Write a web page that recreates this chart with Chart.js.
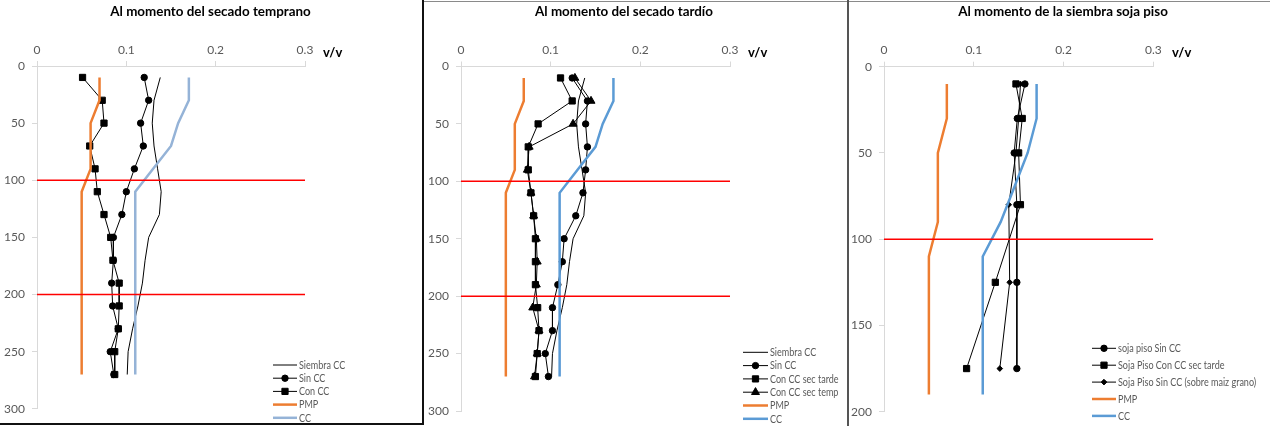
<!DOCTYPE html>
<html lang="es">
<head>
<meta charset="utf-8">
<title>Perfiles de humedad del suelo</title>
<script src="https://cdn.jsdelivr.net/npm/chart.js@4.4.1/dist/chart.umd.min.js"></script>
<style>
  html, body { margin: 0; padding: 0; background: #fff; }
  body { width: 1270px; height: 426px; position: relative; overflow: hidden; }
  canvas { position: absolute; top: 0; }
  .edge { position: absolute; }
</style>
</head>
<body>
<canvas id="panel-early" width="422" height="423" style="left:0"></canvas>
<canvas id="panel-late" width="422" height="426" style="left:424px"></canvas>
<canvas id="panel-soy" width="421" height="426" style="left:849px"></canvas>
<div class="edge" style="left:422px;top:0;width:2px;height:425px;background:#111"></div>
<div class="edge" style="left:0;top:423px;width:424px;height:2px;background:#111"></div>
<div class="edge" style="left:424px;top:1px;width:846px;height:1px;background:#8a8a8a"></div>
<div class="edge" style="left:847px;top:0;width:2px;height:426px;background:#555"></div>
<script>
// profundidad (cm) de cada muestra
const DEPTHS = [10, 30, 50, 70, 90, 110, 130, 150, 170, 190, 210, 230, 250, 270];

const SIEMBRA_CC = [0.138, 0.131, 0.129, 0.131, 0.135, 0.139, 0.137, 0.125, 0.121, 0.118, 0.113, 0.107, 0.102, 0.101];
const PMP = [0.07, 0.07, 0.06, 0.06, 0.06, 0.05, 0.05, 0.05, 0.05, 0.05, 0.05, 0.05, 0.05, 0.05];
const CC = [0.17, 0.17, 0.158, 0.15, 0.13, 0.11, 0.11, 0.11, 0.11, 0.11, 0.11, 0.11, 0.11, 0.11];

// secado temprano
const EARLY_SIN_CC = [0.12, 0.125, 0.116, 0.119, 0.109, 0.1, 0.095, 0.0855, 0.0855, 0.0836, 0.0847, 0.091, 0.082, 0.086];
const EARLY_CON_CC = [0.051, 0.073, 0.075, 0.059, 0.065, 0.0675, 0.075, 0.0825, 0.085, 0.092, 0.092, 0.091, 0.087, 0.087];

// secado tardio
const LATE_SIN_CC = [0.124, 0.141, 0.139, 0.141, 0.139, 0.136, 0.128, 0.115, 0.113, 0.108, 0.102, 0.102, 0.094, 0.0975];
const LATE_CON_CC_TARDE = [0.111, 0.124, 0.086, 0.075, 0.075, 0.078, 0.081, 0.083, 0.083, 0.083, 0.0855, 0.087, 0.085, 0.083];
const LATE_CON_CC_TEMP = [0.127, 0.145, 0.125, 0.076, 0.074, 0.078, 0.081, 0.084, 0.085, 0.084, 0.08, 0.087, 0.085, 0.082];

// siembra soja piso
const SOY_DEPTHS = [10, 30, 50, 80, 125, 175];
const SOY_SIN_CC = [0.157, 0.1485, 0.145, 0.148, 0.148, 0.148];
const SOY_CON_CC_TARDE = [0.147, 0.154, 0.15, 0.152, 0.124, 0.092];
const SOY_SIN_CC_MAIZ = [0.152, 0.15, 0.147, 0.139, 0.14, 0.129];
const SOY_LIMIT_DEPTHS = [10, 30, 50, 70, 90, 110, 190];
const SOY_PMP = [0.07, 0.07, 0.06, 0.06, 0.06, 0.05, 0.05];
const SOY_CC = [0.17, 0.17, 0.16, 0.145, 0.13, 0.11, 0.11];

// lineas rojas de referencia
const REF_DEPTHS = [100, 200];
const SOY_REF_DEPTHS = [100];
const REF_SPAN = [0, 0.3];

const X_TICKS = [0, 0.1, 0.2, 0.3];
const DEPTH_TICKS = [0, 50, 100, 150, 200, 250, 300];
const SOY_DEPTH_TICKS = [0, 50, 100, 150, 200];

const FONT = 'Lato, "Open Sans", sans-serif';
const GREY_TEXT = '#595959';
const AXIS_GREY = '#d9d9d9';

function pairs(xs, ys) {
  return xs.map((x, i) => ({ x, y: ys[i] }));
}

function profile(label, values, depths, style) {
  return Object.assign({
    label,
    data: pairs(values, depths),
    showLine: true,
    borderColor: '#000',
    backgroundColor: '#000',
    borderWidth: 1,
    pointRadius: 0,
    pointBorderWidth: 1,
    pointStyle: 'circle',
  }, style);
}

function refLines(depths) {
  return depths.map((d) => ({
    data: REF_SPAN.map((x) => ({ x, y: d })),
    showLine: true,
    borderColor: '#ff0000',
    borderWidth: 1.5,
    pointRadius: 0,
  }));
}

const panelDecor = {
  id: 'panelDecor',
  afterDraw(chart, args, opts) {
    const ctx = chart.ctx;
    ctx.save();
    ctx.fillStyle = '#000';
    ctx.textBaseline = 'alphabetic';
    ctx.textAlign = 'center';
    ctx.font = 'bold 13.4px ' + FONT;
    ctx.fillText(opts.title, opts.titleX, 16);
    ctx.textAlign = 'left';
    ctx.font = 'bold 13px ' + FONT;
    ctx.fillText('v/v', opts.unitX, 57);

    // leyenda estilo Excel: linea + marcador
    ctx.font = '10.5px ' + FONT;
    ctx.textBaseline = 'middle';
    let y = opts.legendY;
    chart.data.datasets.forEach((ds) => {
      if (!ds.label) return;
      const x0 = opts.legendX;
      const x1 = x0 + opts.lineLen;
      ctx.strokeStyle = ds.borderColor;
      ctx.lineWidth = ds.borderWidth;
      ctx.beginPath();
      ctx.moveTo(x0, y);
      ctx.lineTo(x1, y);
      ctx.stroke();
      if (ds.pointRadius > 0) {
        ctx.fillStyle = ds.backgroundColor;
        ctx.lineWidth = 1;
        Chart.helpers.drawPoint(ctx, {
          pointStyle: ds.pointStyle,
          radius: ds.pointRadius,
          rotation: 0,
          borderWidth: 1,
        }, (x0 + x1) / 2, y);
      }
      ctx.fillStyle = GREY_TEXT;
      const w = ctx.measureText(ds.label).width;
      ctx.fillText(ds.label, x1 + 2, y + 0.5, w * 0.86);
      y += opts.legendStep;
    });
    ctx.restore();
  },
};

function makeChart(id, datasets, panel) {
  datasets.forEach((ds, i) => { ds.order = -i; });
  const canvas = document.getElementById(id);
  return new Chart(canvas, {
    type: 'scatter',
    data: { datasets },
    plugins: [panelDecor],
    options: {
      responsive: false,
      animation: false,
      devicePixelRatio: 1,
      layout: { padding: { top: 0, left: 0, right: canvas.width - panel.right, bottom: canvas.height - panel.bottom } },
      plugins: {
        legend: { display: false },
        tooltip: { enabled: false },
        panelDecor: panel,
      },
      scales: {
        x: {
          type: 'linear',
          position: 'top',
          min: 0,
          max: 0.3,
          afterBuildTicks: (s) => { s.ticks = X_TICKS.map((v) => ({ value: v })); },
          afterFit: (s) => { s.height = panel.top; },
          ticks: {
            color: GREY_TEXT,
            font: { family: FONT, size: 12 },
            padding: 4,
            callback: (v) => String(Math.round(v * 10) / 10),
          },
          grid: { drawOnChartArea: false, tickLength: 5, color: AXIS_GREY },
          border: { color: AXIS_GREY },
        },
        y: {
          type: 'linear',
          reverse: true,
          min: 0,
          max: panel.yTicks[panel.yTicks.length - 1],
          afterBuildTicks: (s) => { s.ticks = panel.yTicks.map((v) => ({ value: v })); },
          afterFit: (s) => { s.width = panel.left; },
          ticks: {
            color: GREY_TEXT,
            font: { family: FONT, size: 12 },
            padding: 7,
          },
          grid: { drawOnChartArea: false, tickLength: 5, color: AXIS_GREY },
          border: { color: AXIS_GREY },
        },
      },
    },
  });
}

const circle = { pointRadius: 3.2, pointStyle: 'circle' };
const square = { pointRadius: 4.4, pointStyle: 'rect' };
const triangle = { pointRadius: 4.6, pointStyle: 'triangle' };
const diamond = { pointRadius: 2.8, pointStyle: 'rectRot' };

makeChart('panel-early', [
  profile('Siembra CC', SIEMBRA_CC, DEPTHS),
  profile('Sin CC', EARLY_SIN_CC, DEPTHS, circle),
  profile('Con CC', EARLY_CON_CC, DEPTHS, square),
  profile('PMP', PMP, DEPTHS, { borderColor: '#ed7d31', borderWidth: 2.5 }),
  profile('CC', CC, DEPTHS, { borderColor: '#95b3d7', borderWidth: 2.5 }),
  ...refLines(REF_DEPTHS),
], {
  title: 'Al momento del secado temprano', titleX: 210.5, unitX: 323,
  left: 37, right: 305, top: 66, bottom: 410, yTicks: DEPTH_TICKS,
  legendX: 273, legendY: 365, legendStep: 13.2, lineLen: 24,
});

makeChart('panel-late', [
  profile('Siembra CC', SIEMBRA_CC, DEPTHS),
  profile('Sin CC', LATE_SIN_CC, DEPTHS, circle),
  profile('Con CC sec tarde', LATE_CON_CC_TARDE, DEPTHS, square),
  profile('Con CC sec temp', LATE_CON_CC_TEMP, DEPTHS, triangle),
  profile('PMP', PMP, DEPTHS, { borderColor: '#ed7d31', borderWidth: 2.5 }),
  profile('CC', CC, DEPTHS, { borderColor: '#5b9bd5', borderWidth: 2.5 }),
  ...refLines(REF_DEPTHS),
], {
  title: 'Al momento del secado tardío', titleX: 200, unitX: 324,
  left: 37, right: 306, top: 66.5, bottom: 411, yTicks: DEPTH_TICKS,
  legendX: 319, legendY: 352.3, legendStep: 13.3, lineLen: 25,
});

makeChart('panel-soy', [
  profile('soja piso Sin CC', SOY_SIN_CC, SOY_DEPTHS, circle),
  profile('Soja Piso Con CC sec tarde', SOY_CON_CC_TARDE, SOY_DEPTHS, square),
  profile('Soja Piso Sin CC (sobre maiz grano)', SOY_SIN_CC_MAIZ, SOY_DEPTHS, diamond),
  profile('PMP', SOY_PMP, SOY_LIMIT_DEPTHS, { borderColor: '#ed7d31', borderWidth: 2.5 }),
  profile('CC', SOY_CC, SOY_LIMIT_DEPTHS, { borderColor: '#5b9bd5', borderWidth: 2.5 }),
  ...refLines(SOY_REF_DEPTHS),
], {
  title: 'Al momento de la siembra soja piso', titleX: 214, unitX: 323,
  left: 35, right: 304.3, top: 66.7, bottom: 411.7, yTicks: SOY_DEPTH_TICKS,
  legendX: 243, legendY: 348.3, legendStep: 16.9, lineLen: 24,
});
</script>
</body>
</html>
